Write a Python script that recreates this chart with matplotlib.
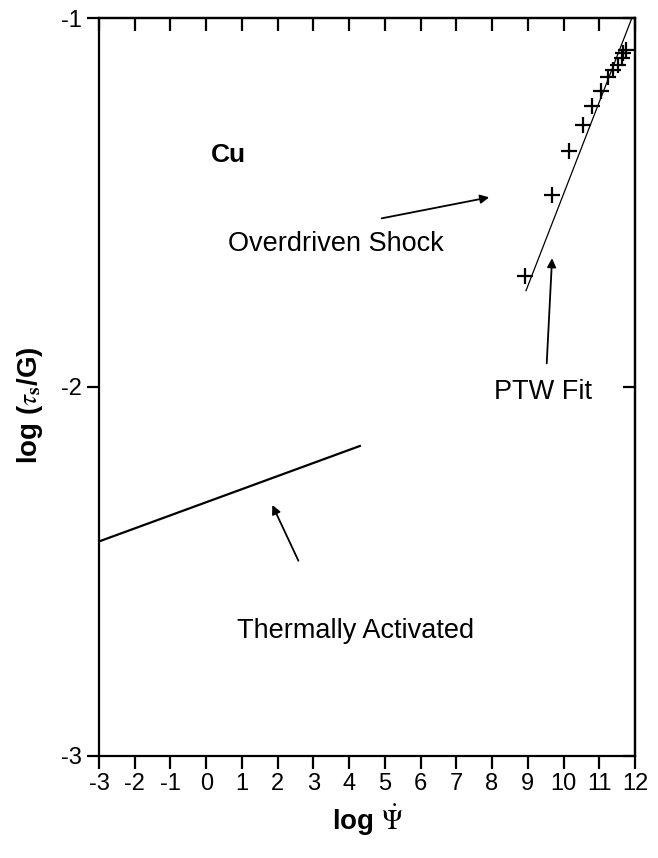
import numpy as np
import matplotlib.pyplot as plt

plt.rcParams['font.family'] = ['Liberation Sans', 'DejaVu Sans']
plt.rcParams['mathtext.fontset'] = 'stix'
plt.rcParams['axes.unicode_minus'] = False

# Overdriven shock data (log strain rate, log flow stress / shear modulus)
shock_x = [8.92, 9.69, 10.16, 10.54, 10.80, 11.04, 11.25, 11.39, 11.52, 11.63, 11.67, 11.75]
shock_y = [-1.699, -1.480, -1.360, -1.290, -1.238, -1.197, -1.159, -1.141, -1.127, -1.108, -1.095, -1.087]

# PTW fit line
fit_x = [8.95, 11.91]
fit_y = [-1.739, -1.001]

# Thermally activated regime
thermal_x = [-2.95, 4.30]
thermal_y = [-2.417, -2.160]

x_ticks = list(range(-3, 13))
y_ticks = [-3, -2, -1]

fig = plt.figure(figsize=(6.58, 8.58), dpi=100)
ax = fig.add_axes([0.1505, 0.119, 0.8145, 0.860])

ax.plot(thermal_x, thermal_y, color='black', lw=1.6)
ax.plot(fit_x, fit_y, color='black', lw=0.9)
ax.plot(shock_x, shock_y, linestyle='none', marker='+', color='black',
        markersize=11, markeredgewidth=1.6)

ax.set_xlim(-3, 12)
ax.set_ylim(-3, -1)
ax.set_xticks(x_ticks)
ax.set_yticks(y_ticks)
ax.set_xticklabels([str(v) for v in x_ticks])
ax.set_yticklabels([str(v) for v in y_ticks])

for s in ax.spines.values():
    s.set_linewidth(1.6)
ax.tick_params(direction='out', length=9, width=1.6, labelsize=17, pad=3)

# inward ticks on the top and right frame
top = ax.secondary_xaxis('top')
top.set_xticks(x_ticks)
top.tick_params(direction='in', length=9, width=1.6, labeltop=False)
top.spines['top'].set_linewidth(1.6)
right = ax.secondary_yaxis('right')
right.set_yticks(y_ticks)
right.tick_params(direction='in', length=9, width=1.6, labelright=False)
right.spines['right'].set_linewidth(1.6)

# axis titles
fig.text(368 / 658, 1 - 820 / 858, r'log $\dot{\Psi}$', fontsize=20,
         fontweight='bold', ha='center', va='center')
fig.text(30 / 658, 1 - 405 / 858, r'log ($\tau_{\mathbf{s}}$/G)', fontsize=20,
         fontweight='bold', ha='center', va='center', rotation=90)

ax.text(0.61, -1.371, 'Cu', fontsize=19, fontweight='bold', ha='center', va='center')
ax.text(3.62, -1.612, 'Overdriven Shock', fontsize=19.5, ha='center', va='center')
ax.text(9.43, -2.014, 'PTW Fit', fontsize=19.5, ha='center', va='center')
ax.text(4.19, -2.661, 'Thermally Activated', fontsize=19.5, ha='center', va='center')

arrow = dict(arrowstyle='-|>', color='black', lw=1.3, mutation_scale=13,
             shrinkA=0, shrinkB=0)
ax.annotate('', xy=(7.92, -1.486), xytext=(4.91, -1.543), arrowprops=arrow)
ax.annotate('', xy=(9.68, -1.651), xytext=(9.53, -1.936), arrowprops=arrow)
ax.annotate('', xy=(1.85, -2.320), xytext=(2.58, -2.471), arrowprops=arrow)

fig.savefig('out.png', dpi=100)
